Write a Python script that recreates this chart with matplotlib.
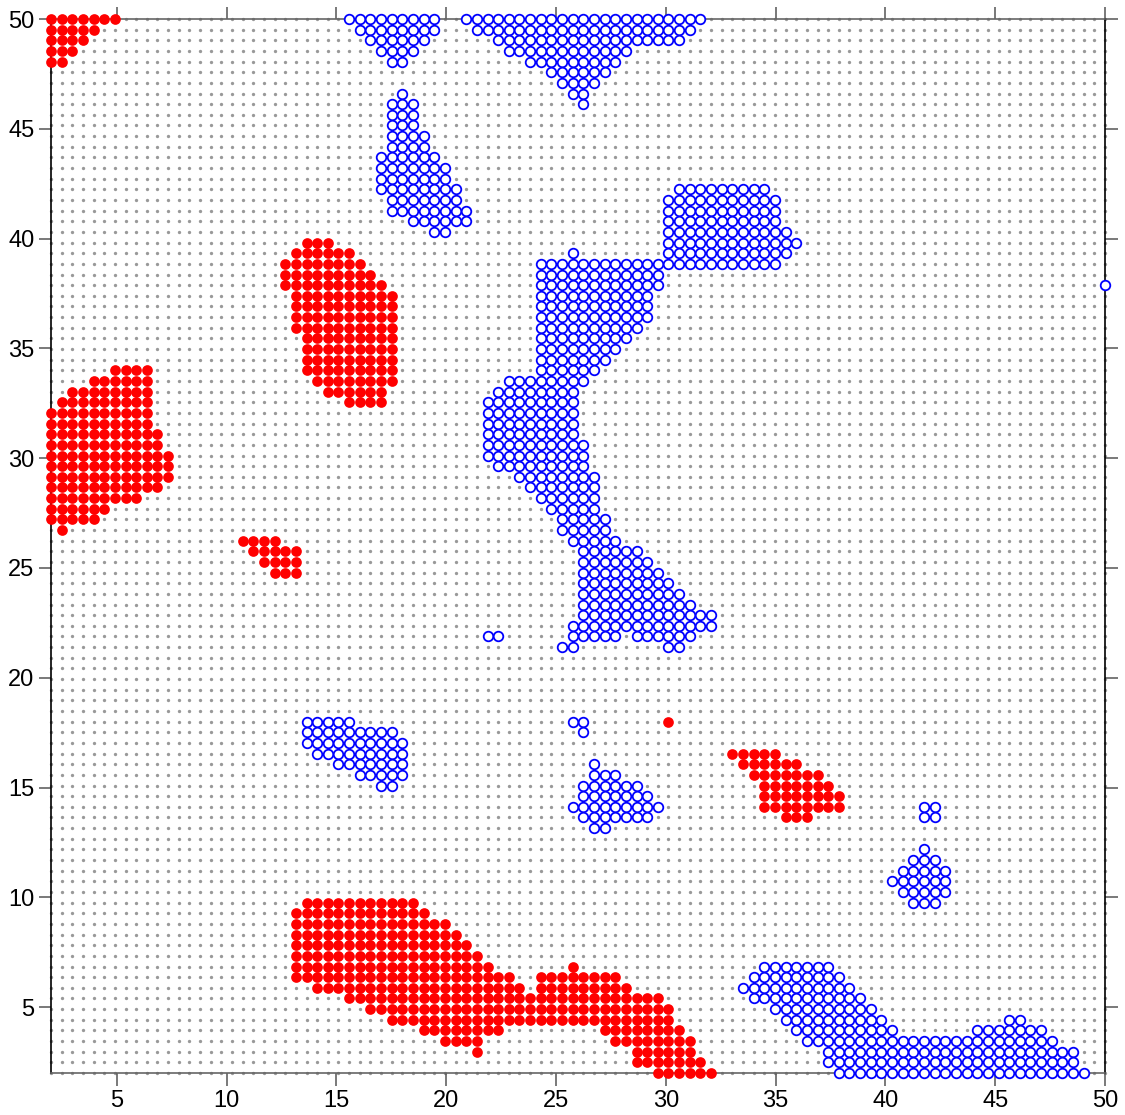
import matplotlib.pyplot as plt
import numpy as np

plt.rcParams['font.family'] = ['Liberation Sans', 'DejaVu Sans']

# lattice: 100 x 100 points between 2 and 50 on both axes
n = 100
lo, hi = 2, 50

# runs of marked cells: (row, first col, last col), row 0 = bottom, col 0 = left
red_runs = [
    # top-left corner
    (99, 0, 6), (98, 0, 4), (97, 0, 3), (96, 0, 2), (95, 0, 1),
    # blob near (15, 36)
    (78, 24, 26), (77, 23, 28), (76, 22, 29), (75, 22, 30), (74, 22, 31),
    (73, 23, 32), (72, 23, 32), (71, 23, 32), (70, 23, 32), (69, 24, 32),
    (68, 24, 32), (67, 24, 32), (66, 24, 32), (65, 25, 32), (64, 26, 31),
    (63, 28, 31),
    # left blob
    (66, 6, 9), (65, 4, 9), (64, 2, 9), (63, 1, 9), (62, 0, 9), (61, 0, 9),
    (60, 0, 10), (59, 0, 10), (58, 0, 11), (57, 0, 11), (56, 0, 11),
    (55, 0, 10), (54, 0, 8), (53, 0, 5), (52, 0, 4), (51, 1, 1),
    # small blob near (12, 25)
    (50, 18, 21), (49, 19, 23), (48, 20, 23), (47, 21, 23),
    # single
    (33, 58, 58),
    # blob near (35, 15)
    (30, 64, 68), (29, 65, 70), (28, 66, 72), (27, 67, 73), (26, 67, 74),
    (25, 67, 74), (24, 69, 71),
    # bottom blob
    (16, 24, 34), (15, 23, 35), (14, 23, 37), (13, 23, 38), (12, 23, 39),
    (11, 23, 40), (10, 23, 41), (10, 49, 49), (9, 23, 43), (9, 46, 53),
    (8, 25, 44), (8, 46, 54), (7, 28, 57), (6, 30, 58), (5, 32, 58),
    (4, 35, 42), (4, 52, 59), (3, 37, 40), (3, 53, 60), (2, 40, 40),
    (2, 55, 60), (1, 55, 61), (0, 57, 62),
]

blue_runs = [
    # top triangles
    (99, 28, 36), (98, 29, 36), (97, 30, 35), (96, 31, 34), (95, 32, 33),
    (99, 39, 61), (98, 40, 60), (97, 42, 59), (96, 43, 54), (95, 45, 53),
    (94, 47, 52), (93, 48, 51), (92, 49, 50), (91, 50, 50),
    # column near x = 18
    (92, 33, 33), (91, 32, 34), (90, 32, 34), (89, 32, 34), (88, 32, 35),
    (87, 32, 35), (86, 31, 36), (85, 31, 37), (84, 31, 37), (83, 31, 38),
    (82, 32, 38), (81, 32, 39), (80, 34, 39), (79, 36, 37),
    # upper right blob
    (83, 59, 67), (82, 58, 68), (81, 58, 68), (80, 58, 68), (79, 58, 69),
    (78, 58, 70), (77, 58, 69), (76, 59, 68),
    # big central blob
    (77, 49, 49), (76, 46, 58), (75, 46, 57), (74, 46, 57), (73, 46, 56),
    (72, 46, 56), (71, 46, 56), (70, 46, 55), (69, 46, 54), (68, 46, 53),
    (67, 46, 52), (66, 46, 51), (65, 43, 50), (64, 42, 49), (63, 41, 49),
    (62, 41, 49), (61, 41, 49), (60, 41, 49), (59, 41, 50), (58, 41, 50),
    (57, 42, 50), (56, 44, 51), (55, 45, 51), (54, 46, 51), (53, 47, 51),
    (52, 48, 52), (51, 48, 52), (50, 49, 53), (49, 50, 55), (48, 50, 56),
    (47, 50, 57), (46, 50, 58), (45, 50, 59), (44, 50, 60), (43, 50, 62),
    (42, 49, 62), (41, 49, 53), (41, 55, 60), (40, 48, 49), (40, 58, 59),
    (41, 41, 42),
    # single at the right edge
    (74, 99, 99),
    # blob near (16, 17)
    (33, 24, 28), (32, 24, 32), (31, 24, 33), (30, 25, 33), (29, 27, 33),
    (28, 29, 33), (27, 31, 32),
    # blob near (27, 15)
    (33, 49, 50), (32, 50, 50), (29, 51, 51), (28, 51, 53), (27, 50, 55),
    (26, 50, 56), (25, 49, 57), (24, 50, 56), (23, 51, 52),
    # blob near (42, 11)
    (25, 82, 83), (24, 82, 83), (21, 82, 82), (20, 81, 83), (19, 80, 84),
    (18, 79, 84), (17, 80, 84), (16, 81, 83),
    # bottom right blob
    (10, 67, 73), (9, 66, 74), (8, 65, 75), (7, 66, 76), (6, 68, 77),
    (5, 69, 78), (5, 90, 91), (4, 70, 79), (4, 87, 93), (3, 71, 94),
    (2, 73, 96), (1, 73, 96), (0, 74, 97),
]

grid = np.linspace(lo, hi, n)


def cells(runs):
    cols, rows = [], []
    for r, a, b in runs:
        for c in range(a, b + 1):
            cols.append(c)
            rows.append(r)
    return grid[cols], grid[rows]


fig = plt.figure(figsize=(11.25, 11.15), dpi=100)
ax = fig.add_axes([51 / 1125, 1 - 1073 / 1115, 1054 / 1125, 1054 / 1115])

gx, gy = np.meshgrid(grid, grid)
ax.plot(gx.ravel(), gy.ravel(), 'o', color='#999999', ms=2.4, mew=0,
        clip_on=False, zorder=1)

rx, ry = cells(red_runs)
ax.plot(rx, ry, 'o', color='#ff0000', ms=7.7, mew=0, clip_on=False, zorder=4)

bx, by = cells(blue_runs)
ax.plot(bx, by, 'o', mfc='white', mec='#0000ff', ms=6.9, mew=1.3,
        clip_on=False, zorder=4)

ax.set_xlim(lo, hi)
ax.set_ylim(lo, hi)
ticks = np.arange(5, 51, 5)
ax.set_xticks(ticks)
ax.set_yticks(ticks)
ax.tick_params(direction='out', length=9, width=1.1, color='#555555',
               labelsize=17, top=True, right=True, pad=3)
for side in ['left', 'right']:
    ax.spines[side].set_color('black')
for side in ['top', 'bottom']:
    ax.spines[side].set_color('#666666')
for s in ax.spines.values():
    s.set_linewidth(1.2)

fig.savefig('out.png', dpi=100)
